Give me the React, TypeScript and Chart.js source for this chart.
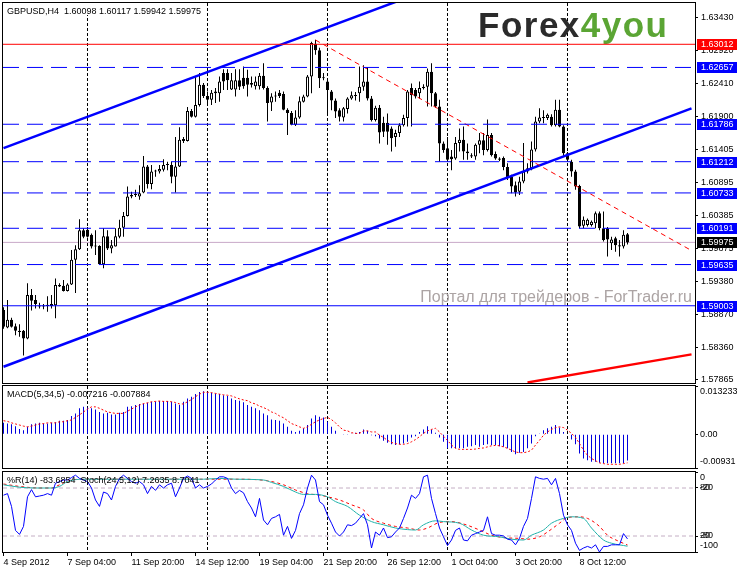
import React, { useEffect, useRef } from "react";
import { Chart, registerables } from "chart.js";
Chart.register(...registerables);

const FONT = "'Liberation Sans', Arial, Helvetica, sans-serif";
const AXIS_W = 42;
const X_MIN = -0.125;
const X_MAX = 172.875;

// ---------- price data (GBPUSD H4) ----------
const opens = [
  1.5894, 1.5867, 1.5879, 1.5869, 1.5862, 1.5862, 1.5850, 1.5917, 1.5909, 1.5900,
  1.5899, 1.5900, 1.5900, 1.5901, 1.5932, 1.5931, 1.5923, 1.5933, 1.5971, 1.5987,
  1.6016, 1.6017, 1.6009, 1.5992, 1.5992, 1.5964, 1.6007, 1.5988, 1.5991, 1.6006,
  1.6020, 1.6038, 1.6068, 1.6070, 1.6068, 1.6074, 1.6114, 1.6087, 1.6106, 1.6106,
  1.6109, 1.6116, 1.6116, 1.6098, 1.6114, 1.6153, 1.6153, 1.6199, 1.6190, 1.6208,
  1.6239, 1.6222, 1.6216, 1.6229, 1.6226, 1.6257, 1.6257, 1.6232, 1.6232, 1.6246,
  1.6250, 1.6250, 1.6242, 1.6237, 1.6237, 1.6253, 1.6234, 1.6212, 1.6221, 1.6227,
  1.6225, 1.6201, 1.6196, 1.6178, 1.6189, 1.6213, 1.6221, 1.6252, 1.6302, 1.6292,
  1.6249, 1.6244, 1.6229, 1.6215, 1.6200, 1.6189, 1.6202, 1.6218, 1.6223, 1.6226,
  1.6236, 1.6244, 1.6218, 1.6185, 1.6204, 1.6181, 1.6181, 1.6172, 1.6159, 1.6165,
  1.6177, 1.6188, 1.6234, 1.6231, 1.6226, 1.6234, 1.6236, 1.6259, 1.6226, 1.6206,
  1.6149, 1.6142, 1.6129, 1.6126, 1.6150, 1.6155, 1.6137, 1.6131, 1.6129, 1.6147,
  1.6154, 1.6139, 1.6162, 1.6133, 1.6126, 1.6127, 1.6113, 1.6098, 1.6085, 1.6075,
  1.6091, 1.6106, 1.6111, 1.6140, 1.6183, 1.6189, 1.6188, 1.6190, 1.6177, 1.6201,
  1.6175, 1.6134, 1.6121, 1.6106, 1.6084, 1.6023, 1.6024, 1.6024, 1.6027, 1.6042,
  1.6019, 1.6019, 1.5996, 1.6004, 1.5993, 1.5991, 1.60098,
];
const highs = [
  1.5898, 1.5909, 1.5882, 1.5873, 1.5872, 1.5863, 1.5935, 1.5926, 1.5917, 1.5905,
  1.5903, 1.5915, 1.5917, 1.5942, 1.5935, 1.5940, 1.5935, 1.5986, 1.5993, 1.6033,
  1.6019, 1.6021, 1.6011, 1.6016, 1.5993, 1.6019, 1.6016, 1.6001, 1.6019, 1.6032,
  1.6044, 1.6083, 1.6075, 1.6078, 1.6085, 1.6130, 1.6116, 1.6116, 1.6109, 1.6116,
  1.6125, 1.6121, 1.6121, 1.6159, 1.6174, 1.6159, 1.6205, 1.6202, 1.6252, 1.6257,
  1.6242, 1.6229, 1.6231, 1.6234, 1.6252, 1.6263, 1.6263, 1.6257, 1.6263, 1.6263,
  1.6267, 1.6262, 1.6252, 1.6252, 1.6257, 1.6272, 1.6237, 1.6226, 1.6229, 1.6231,
  1.6229, 1.6203, 1.6199, 1.6200, 1.6221, 1.6224, 1.6254, 1.6305, 1.6308, 1.6296,
  1.6257, 1.6246, 1.6231, 1.6218, 1.6203, 1.6205, 1.6220, 1.6229, 1.6228, 1.6267,
  1.6269, 1.6266, 1.6222, 1.6207, 1.6208, 1.6190, 1.6195, 1.6175, 1.6170, 1.6180,
  1.6193, 1.6231, 1.6241, 1.6234, 1.6244, 1.6240, 1.6264, 1.6272, 1.6228, 1.6216,
  1.6152, 1.6159, 1.6139, 1.6159, 1.6172, 1.6175, 1.6149, 1.6134, 1.6149, 1.6165,
  1.6165, 1.6186, 1.6165, 1.6137, 1.6128, 1.6129, 1.6119, 1.6101, 1.6091, 1.6098,
  1.6150, 1.6119, 1.6152, 1.6190, 1.6203, 1.6200, 1.6195, 1.6194, 1.6216, 1.6216,
  1.6177, 1.6136, 1.6124, 1.6109, 1.6086, 1.6037, 1.6034, 1.6031, 1.6045, 1.6045,
  1.6045, 1.6021, 1.6006, 1.6006, 1.6001, 1.6016, 1.60117,
];
const lows = [
  1.5865, 1.5866, 1.5867, 1.5855, 1.5853, 1.5824, 1.5849, 1.5893, 1.5896, 1.5896,
  1.5895, 1.5891, 1.5896, 1.5881, 1.5929, 1.5922, 1.5922, 1.5932, 1.5920, 1.5986,
  1.6004, 1.6005, 1.5988, 1.5978, 1.5963, 1.5958, 1.5986, 1.5981, 1.5991, 1.6004,
  1.6006, 1.6037, 1.6065, 1.6067, 1.6063, 1.6073, 1.6080, 1.6079, 1.6098, 1.6103,
  1.6106, 1.6108, 1.6088, 1.6074, 1.6113, 1.6150, 1.6152, 1.6189, 1.6189, 1.6206,
  1.6219, 1.6208, 1.6208, 1.6211, 1.6213, 1.6231, 1.6231, 1.6231, 1.6221, 1.6231,
  1.6233, 1.6221, 1.6235, 1.6232, 1.6232, 1.6232, 1.6183, 1.6199, 1.6213, 1.6219,
  1.6200, 1.6162, 1.6177, 1.6176, 1.6187, 1.6212, 1.6220, 1.6226, 1.6285, 1.6234,
  1.6246, 1.6195, 1.6200, 1.6188, 1.6183, 1.6183, 1.6195, 1.6216, 1.6215, 1.6213,
  1.6230, 1.6215, 1.6183, 1.6183, 1.6149, 1.6159, 1.6147, 1.6137, 1.6144, 1.6159,
  1.6175, 1.6175, 1.6175, 1.6218, 1.6218, 1.6232, 1.6206, 1.6206, 1.6204, 1.6121,
  1.6135, 1.6121, 1.6108, 1.6124, 1.6137, 1.6124, 1.6124, 1.6127, 1.6124, 1.6134,
  1.6131, 1.6137, 1.6129, 1.6124, 1.6122, 1.6108, 1.6093, 1.6073, 1.6068, 1.6070,
  1.6088, 1.6103, 1.6108, 1.6137, 1.6180, 1.6180, 1.6185, 1.6175, 1.6175, 1.6174,
  1.6129, 1.6121, 1.6098, 1.6078, 1.6019, 1.6019, 1.6022, 1.6022, 1.6019, 1.6016,
  1.5999, 1.5976, 1.5986, 1.5983, 1.5976, 1.5988, 1.59942,
];
const closes = [
  1.5868, 1.5879, 1.5868, 1.5862, 1.5860, 1.5850, 1.5917, 1.5908, 1.5903, 1.5899,
  1.5900, 1.5902, 1.5903, 1.5932, 1.5930, 1.5923, 1.5933, 1.5971, 1.5987, 1.6016,
  1.6006, 1.6006, 1.5991, 1.5991, 1.5964, 1.6007, 1.5988, 1.5993, 1.6007, 1.6020,
  1.6038, 1.6068, 1.6070, 1.6070, 1.6073, 1.6114, 1.6087, 1.6106, 1.6107, 1.6110,
  1.6116, 1.6116, 1.6098, 1.6114, 1.6155, 1.6156, 1.6199, 1.6190, 1.6208, 1.6239,
  1.6222, 1.6216, 1.6227, 1.6226, 1.6244, 1.6244, 1.6246, 1.6246, 1.6246, 1.6236,
  1.6237, 1.6239, 1.6239, 1.6244, 1.6253, 1.6234, 1.6211, 1.6221, 1.6222, 1.6222,
  1.6201, 1.6196, 1.6178, 1.6189, 1.6214, 1.6221, 1.6252, 1.6303, 1.6292, 1.6249,
  1.6250, 1.6231, 1.6215, 1.6198, 1.6190, 1.6203, 1.6218, 1.6223, 1.6222, 1.6236,
  1.6244, 1.6218, 1.6185, 1.6204, 1.6166, 1.6167, 1.6167, 1.6157, 1.6165, 1.6177,
  1.6188, 1.6229, 1.6223, 1.6221, 1.6234, 1.6236, 1.6259, 1.6226, 1.6206, 1.6149,
  1.6139, 1.6124, 1.6125, 1.6150, 1.6155, 1.6137, 1.6134, 1.6129, 1.6147, 1.6154,
  1.6139, 1.6162, 1.6131, 1.6126, 1.6124, 1.6113, 1.6096, 1.6083, 1.6074, 1.6091,
  1.6106, 1.6111, 1.6140, 1.6183, 1.6189, 1.6188, 1.6193, 1.6177, 1.6201, 1.6175,
  1.6134, 1.6124, 1.6106, 1.6083, 1.6022, 1.6032, 1.6032, 1.6029, 1.6042, 1.6019,
  1.6001, 1.6002, 1.6002, 1.5993, 1.5991, 1.6009, 1.59975,
];

// ---------- MACD(5,34,5) ----------
const macdHist = [
  0.0031, 0.0029, 0.0027, 0.0022, 0.0014, 0.0011, 0.0020, 0.0027, 0.0029, 0.0031,
  0.0029, 0.0029, 0.0031, 0.0033, 0.0037, 0.0037, 0.0039, 0.0050, 0.0057, 0.0071,
  0.0075, 0.0073, 0.0071, 0.0068, 0.0061, 0.0057, 0.0059, 0.0054, 0.0054, 0.0059,
  0.0061, 0.0075, 0.0077, 0.0080, 0.0083, 0.0084, 0.0086, 0.0089, 0.0090, 0.0091,
  0.0091, 0.0091, 0.0089, 0.0084, 0.0080, 0.0089, 0.0098, 0.0103, 0.0110, 0.0116,
  0.0118, 0.0116, 0.0114, 0.0112, 0.0110, 0.0107, 0.0105, 0.0098, 0.0094, 0.0092,
  0.0088, 0.0080, 0.0075, 0.0071, 0.0066, 0.0057, 0.0052, 0.0040, 0.0039, 0.0037,
  0.0029, 0.0020, 0.0009, 0.0006, 0.0009, 0.0016, 0.0025, 0.0043, 0.0052, 0.0048,
  0.0046, 0.0034, 0.0020, 0.0009, 0.0001, -0.0001, -0.0001, 0.0002, 0.0004, 0.0006,
  0.0013, 0.0009, -0.0003, -0.0006, -0.0012, -0.0018, -0.0024, -0.0028, -0.0030, -0.0028,
  -0.0026, -0.0021, -0.0009, -0.0006, 0.0006, 0.0013, 0.0022, 0.0013, 0.0004, -0.0009,
  -0.0021, -0.0039, -0.0039, -0.0039, -0.0039, -0.0039, -0.0035, -0.0033, -0.0030, -0.0035,
  -0.0030, -0.0028, -0.0030, -0.0030, -0.0033, -0.0035, -0.0039, -0.0049, -0.0055, -0.0051,
  -0.0049, -0.0039, -0.0026, -0.0006, 0.0002, 0.0011, 0.0016, 0.0020, 0.0025, 0.0018,
  0.0006, 0.0000, -0.0015, -0.0028, -0.0053, -0.0067, -0.0072, -0.0076, -0.0076, -0.0079,
  -0.0080, -0.0080, -0.0080, -0.0080, -0.0080, -0.0080, -0.007216,
];
const macdSignal = [
  0.0037, 0.0035, 0.0031, 0.0028, 0.0025, 0.0022, 0.0020, 0.0022, 0.0025, 0.0028,
  0.0029, 0.0031, 0.0031, 0.0031, 0.0034, 0.0034, 0.0037, 0.0039, 0.0046, 0.0053,
  0.0061, 0.0069, 0.0075, 0.0075, 0.0071, 0.0066, 0.0061, 0.0059, 0.0057, 0.0057,
  0.0057, 0.0063, 0.0069, 0.0075, 0.0080, 0.0084, 0.0086, 0.0089, 0.0090, 0.0091,
  0.0090, 0.0090, 0.0089, 0.0087, 0.0083, 0.0083, 0.0089, 0.0095, 0.0103, 0.0110,
  0.0115, 0.0115, 0.0114, 0.0112, 0.0110, 0.0108, 0.0107, 0.0105, 0.0101, 0.0097,
  0.0094, 0.0092, 0.0086, 0.0083, 0.0077, 0.0073, 0.0068, 0.0061, 0.0057, 0.0050,
  0.0045, 0.0037, 0.0029, 0.0025, 0.0020, 0.0016, 0.0020, 0.0027, 0.0034, 0.0039,
  0.0043, 0.0046, 0.0040, 0.0031, 0.0020, 0.0011, 0.0009, 0.0004, 0.0002, 0.0002,
  0.0009, 0.0009, 0.0006, 0.0006, -0.0003, -0.0009, -0.0017, -0.0023, -0.0026, -0.0028,
  -0.0028, -0.0026, -0.0021, -0.0015, -0.0007, 0.0002, 0.0009, 0.0013, 0.0016, 0.0006,
  -0.0006, -0.0017, -0.0030, -0.0039, -0.0042, -0.0042, -0.0042, -0.0042, -0.0041, -0.0039,
  -0.0038, -0.0035, -0.0032, -0.0031, -0.0032, -0.0035, -0.0039, -0.0044, -0.0049, -0.0051,
  -0.0051, -0.0049, -0.0044, -0.0030, -0.0017, -0.0003, 0.0006, 0.0013, 0.0018, 0.0020,
  0.0018, 0.0011, 0.0002, -0.0009, -0.0026, -0.0044, -0.0058, -0.0067, -0.0073, -0.0079,
  -0.0081, -0.0083, -0.0083, -0.0083, -0.0083, -0.0081, -0.007884,
];

// ---------- %R(14) ----------
const wprValues = [
  -29, -27, -43, -73, -78, -68, -31, -22, -31, -30,
  -29, -27, -29, -14, -12, -10, -10, -7, -4, -8,
  -10, -12, -20, -35, -43, -25, -27, -35, -18, -8,
  -4, -8, -12, -14, -12, -16, -27, -18, -23, -16,
  -20, -16, -14, -31, -20, -8, -5, -8, -20, -16,
  -20, -18, -15, -10, -6, -6, -8, -20, -27, -23,
  -26, -37, -45, -56, -33, -60, -66, -58, -56, -53,
  -79, -68, -83, -73, -52, -41, -20, -4, -10, -37,
  -41, -54, -64, -75, -80, -75, -66, -67, -64, -58,
  -52, -66, -95, -75, -79, -70, -82, -81, -75, -70,
  -58, -45, -29, -33, -27, -6, -4, -33, -52, -70,
  -81, -92, -85, -73, -70, -85, -86, -79, -77, -75,
  -73, -56, -77, -79, -79, -80, -84, -85, -91, -83,
  -68, -58, -33, -6, -8, -9, -8, -16, -8, -27,
  -54, -66, -73, -89, -98, -95, -93, -95, -91, -100,
  -93, -93, -91, -91, -91, -77, -83.6854,
];

// ---------- Stochastic(24,5,12), read at bar indices ----------
const stochMainIdx = [0, 4, 8, 12, 14, 16, 20, 30, 40, 50, 54, 58, 65, 67, 70, 73, 75, 78, 81, 83, 86, 89, 92, 95, 98, 101, 103, 105, 108, 110, 114, 117, 120, 124, 127, 130, 132, 135, 137, 140, 142, 145, 147, 150, 152, 156];
const stochMainVals = [84, 81, 80, 80, 82, 88, 91, 91, 91, 91, 92, 91, 90, 87, 82, 75, 72, 72, 69, 63, 57, 46, 38, 34, 30, 28, 27.5, 34, 39, 38, 36, 27.5, 21, 19, 16, 15, 21, 27.5, 36, 42, 44, 42, 30, 15, 11, 7.2635];
const stochSigIdx = [0, 4, 9, 12, 14, 17, 20, 50, 58, 66, 70, 73, 76, 79, 81, 84, 87, 90, 92, 95, 98, 101, 104, 106, 109, 112, 115, 119, 122, 125, 129, 131, 134, 136, 139, 141, 144, 146, 149, 151, 154, 156];
const stochSigVals = [85, 82, 80, 80, 84, 90, 91, 91, 91, 89, 84, 77.5, 73, 71, 69, 65, 59, 52.5, 42, 36, 32, 30, 27.5, 30, 37, 38, 35, 27.5, 21, 18, 17, 16, 19, 25, 36, 43, 44, 42, 32, 21, 13, 8.7041];

// ---------- axes / labels ----------
const priceTicks = [1.6343, 1.6292, 1.6241, 1.619, 1.61405, 1.60895, 1.60385, 1.59875, 1.5938, 1.5887, 1.5836, 1.57865];
const timeLabelIdx = [0, 16, 32, 48, 64, 80, 96, 112, 128, 144];
const timeLabels = ["4 Sep 2012", "7 Sep 04:00", "11 Sep 20:00", "14 Sep 12:00", "19 Sep 04:00", "21 Sep 20:00", "26 Sep 12:00", "1 Oct 04:00", "3 Oct 20:00", "8 Oct 12:00"];
const weekGridIdx = [21, 51, 81, 111, 141];

// ---------- drawn objects ----------
const redLevel = 1.63012;
const dashedLevels = [1.62657, 1.61786, 1.61212, 1.60733, 1.60191, 1.59635];
const solidBlueLevel = 1.59003;
const lastPrice = 1.59975;
const channelUpper: [number, number][] = [[0, 1.6142], [100, 1.63707]];
const channelLower: [number, number][] = [[0, 1.58068], [172, 1.62029]];
const redTrend: [number, number][] = [[78, 1.63077], [172, 1.5985]];
const redLow: [number, number][] = [[131, 1.57828], [172, 1.58258]];
const priceBoxes = [
  { v: 1.63012, c: "#ff0000" },
  { v: 1.62657, c: "#0000ff" },
  { v: 1.61786, c: "#0000ff" },
  { v: 1.61212, c: "#0000ff" },
  { v: 1.60733, c: "#0000ff" },
  { v: 1.60191, c: "#0000ff" },
  { v: 1.59975, c: "#000000" },
  { v: 1.59635, c: "#0000ff" },
  { v: 1.59003, c: "#0000ff" },
];
const mainHeader = "GBPUSD,H4  1.60098 1.60117 1.59942 1.59975";
const macdHeader = "MACD(5,34,5) -0.007216 -0.007884";
const stochHeader = "%R(14) -83.6854  Stoch(24,5,12) 7.2635 8.7041";
const watermark = "Портал для трейдеров - ForTrader.ru";

// ---------- helpers ----------
const seg = (pts: [number, number][], color: string, width: number, dash: number[] = [], order = 0) => ({
  type: "line" as const,
  data: pts.map(([x, y]) => ({ x, y })),
  borderColor: color,
  borderWidth: width,
  borderDash: dash,
  pointRadius: 0,
  fill: false,
  tension: 0,
  order,
});
const hline = (v: number, color: string, width: number, dash: number[] = [], order = 0) =>
  seg([[X_MIN, v], [X_MAX, v]], color, width, dash, order);

const xHidden = { type: "linear" as const, min: X_MIN, max: X_MAX, offset: false, display: false };

const frame = {
  id: "frame",
  afterDraw(chart: any) {
    const { ctx, chartArea: a } = chart;
    ctx.save();
    ctx.strokeStyle = "#000";
    ctx.lineWidth = 1;
    ctx.setLineDash([]);
    ctx.strokeRect(a.left - 0.5, a.top - 0.5, a.right - a.left + 1, a.bottom - a.top + 1);
    ctx.restore();
  },
};
const weekGrid = {
  id: "weekGrid",
  beforeDatasetsDraw(chart: any) {
    const { ctx, chartArea: a, scales } = chart;
    ctx.save();
    ctx.strokeStyle = "#000";
    ctx.lineWidth = 1;
    ctx.setLineDash([3, 2]);
    weekGridIdx.forEach((i) => {
      const px = Math.floor(scales.x.getPixelForValue(i)) + 0.5;
      ctx.beginPath();
      ctx.moveTo(px, a.top);
      ctx.lineTo(px, a.bottom);
      ctx.stroke();
    });
    ctx.restore();
  },
};
const headerText = (text: string, bg: boolean) => ({
  id: "headerText",
  afterDraw(chart: any) {
    const { ctx, chartArea: a } = chart;
    ctx.save();
    ctx.font = `9px ${FONT}`;
    const w = ctx.measureText(text).width;
    if (bg) {
      ctx.fillStyle = "#fff";
      ctx.fillRect(a.left, a.top, w + 6, 12);
    }
    ctx.fillStyle = "#000";
    ctx.textBaseline = "middle";
    ctx.fillText(text, a.left + 4, a.top + 9);
    ctx.restore();
  },
});
const sideLabels = (items: { v: number; t: string; dy: number }[]) => ({
  id: "sideLabels",
  afterDraw(chart: any) {
    const { ctx, chartArea: a, scales } = chart;
    ctx.save();
    ctx.font = `9px ${FONT}`;
    ctx.fillStyle = "#000";
    ctx.textBaseline = "middle";
    items.forEach((it) => ctx.fillText(it.t, a.right + 5, scales.y.getPixelForValue(it.v) + it.dy));
    ctx.restore();
  },
});
const mainDecor = {
  id: "mainDecor",
  beforeDatasetsDraw(chart: any) {
    const { ctx, chartArea: a } = chart;
    ctx.save();
    // watermark
    ctx.font = `16px ${FONT}`;
    ctx.fillStyle = "#aca4a4";
    ctx.textAlign = "right";
    ctx.textBaseline = "alphabetic";
    ctx.fillText(watermark, a.right - 3, 302);
    // logo
    ctx.textAlign = "left";
    ctx.font = `bold 35px ${FONT}`;
    try {
      (ctx as any).letterSpacing = "1.5px";
    } catch (e) {
      /* ignore */
    }
    ctx.fillStyle = "#2b2b2b";
    ctx.fillText("Forex", 478, 37);
    const w = ctx.measureText("Forex").width;
    ctx.fillStyle = "#5ba534";
    ctx.fillText("4you", 478 + w, 37);
    ctx.restore();
  },
  afterDraw(chart: any) {
    const { ctx, chartArea: a, scales } = chart;
    ctx.save();
    ctx.font = `9px ${FONT}`;
    ctx.textBaseline = "middle";
    priceBoxes.forEach((b) => {
      const py = Math.round(scales.y.getPixelForValue(b.v));
      ctx.fillStyle = b.c;
      ctx.fillRect(a.right + 2, py - 5, 40, 11);
      ctx.fillStyle = "#fff";
      ctx.fillText(b.v.toFixed(5), a.right + 6, py + 0.5);
    });
    ctx.restore();
  },
};

const common = {
  responsive: false,
  animation: false as const,
  devicePixelRatio: 1,
  events: [] as any[],
  plugins: { legend: { display: false }, tooltip: { enabled: false } },
};
const yRight = (min: number, max: number, ticks: number[], showLabels: boolean, fmt?: (v: number) => string) => ({
  type: "linear" as const,
  position: "right" as const,
  min,
  max,
  beginAtZero: false,
  afterBuildTicks: (s: any) => {
    s.ticks = ticks.map((v) => ({ value: v }));
  },
  afterFit: (s: any) => {
    s.width = AXIS_W;
    s.paddingTop = 0;
    s.paddingBottom = 0;
  },
  ticks: {
    display: showLabels,
    autoSkip: false,
    padding: 3,
    color: "#000",
    font: { family: FONT, size: 9 },
    callback: (v: any) => (fmt ? fmt(Number(v)) : String(v)),
  },
  grid: { drawOnChartArea: false, color: "#000", tickLength: 3, lineWidth: 1 },
  border: { display: false },
});

export default function App() {
  const mainRef = useRef<HTMLCanvasElement>(null);
  const macdRef = useRef<HTMLCanvasElement>(null);
  const stochRef = useRef<HTMLCanvasElement>(null);

  useEffect(() => {
    const idx = opens.map((_, i) => i);
    const main = new Chart(mainRef.current as HTMLCanvasElement, {
      type: "bar",
      data: {
        datasets: [
          hline(lastPrice, "#c8a8c8", 1, [], 9) as any,
          {
            type: "bar",
            data: idx.map((i) => ({ x: i, y: [lows[i], highs[i]] })),
            backgroundColor: "#000",
            borderWidth: 0,
            barThickness: 1,
            grouped: false,
            inflateAmount: 0,
            order: 6,
          } as any,
          {
            type: "bar",
            data: idx.map((i) => ({ x: i, y: [opens[i], closes[i]] })),
            backgroundColor: idx.map((i) => (closes[i] >= opens[i] ? "#ffffff" : "#000000")),
            borderColor: "#000",
            borderWidth: 1,
            borderSkipped: false,
            barThickness: 3,
            grouped: false,
            minBarLength: 1,
            inflateAmount: 0,
            order: 5,
          } as any,
          hline(redLevel, "#ff0000", 1) as any,
          ...dashedLevels.map((v) => hline(v, "#0000ff", 1, [16, 8]) as any),
          hline(solidBlueLevel, "#0000ff", 1) as any,
          seg(redTrend, "#ff0000", 1, [5, 4]) as any,
          seg(redLow, "#ff0000", 2.5) as any,
          seg(channelUpper, "#0000ff", 2.5) as any,
          seg(channelLower, "#0000ff", 2.5) as any,
        ],
      },
      options: {
        ...common,
        layout: { padding: { left: 3, top: 3, right: 0, bottom: 2 } },
        scales: {
          x: xHidden,
          y: yRight(1.57819, 1.63645, priceTicks, true, (v) => v.toFixed(5)),
        },
      } as any,
      plugins: [weekGrid, mainDecor, headerText(mainHeader, true), frame],
    });

    const macd = new Chart(macdRef.current as HTMLCanvasElement, {
      type: "bar",
      data: {
        datasets: [
          {
            type: "line",
            data: idx.map((i) => ({ x: i, y: macdSignal[i] })),
            borderColor: "#ff0000",
            borderWidth: 1,
            borderDash: [2, 2],
            pointRadius: 0,
            fill: false,
            order: 0,
          } as any,
          {
            type: "bar",
            data: idx.map((i) => ({ x: i, y: macdHist[i] })),
            backgroundColor: "#0000dd",
            borderWidth: 0,
            barThickness: 1,
            grouped: false,
            inflateAmount: 0,
            order: 1,
          } as any,
        ],
      },
      options: {
        ...common,
        layout: { padding: { left: 3, top: 1, right: 0, bottom: 3 } },
        scales: {
          x: xHidden,
          y: yRight(-0.00931, 0.013233, [-0.00931, 0, 0.013233], false),
        },
      } as any,
      plugins: [
        weekGrid,
        headerText(macdHeader, false),
        sideLabels([
          { v: 0.013233, t: "0.013233", dy: 6 },
          { v: 0, t: "0.00", dy: 0 },
          { v: -0.00931, t: "-0.00931", dy: -6 },
        ]),
        frame,
      ],
    });

    const stoch = new Chart(stochRef.current as HTMLCanvasElement, {
      type: "line",
      data: {
        datasets: [
          hline(-20, "#c4aec4", 1, [4, 3], 9) as any,
          hline(-80, "#c4aec4", 1, [4, 3], 9) as any,
          {
            data: stochSigIdx.map((x, k) => ({ x, y: stochSigVals[k] - 100 })),
            borderColor: "#ff0000",
            borderWidth: 1,
            borderDash: [3, 3],
            pointRadius: 0,
            cubicInterpolationMode: "monotone",
            order: 3,
          } as any,
          {
            data: stochMainIdx.map((x, k) => ({ x, y: stochMainVals[k] - 100 })),
            borderColor: "#20b2aa",
            borderWidth: 1,
            pointRadius: 0,
            cubicInterpolationMode: "monotone",
            order: 2,
          } as any,
          {
            data: idx.map((i) => ({ x: i, y: wprValues[i] })),
            borderColor: "#0000ff",
            borderWidth: 1,
            pointRadius: 0,
            tension: 0,
            order: 1,
          } as any,
        ],
      },
      options: {
        ...common,
        layout: { padding: { left: 3, top: 1, right: 0, bottom: 0 } },
        scales: {
          x: {
            type: "linear",
            min: X_MIN,
            max: X_MAX,
            offset: false,
            afterBuildTicks: (s: any) => {
              s.ticks = timeLabelIdx.map((v) => ({ value: v }));
            },
            afterFit: (s: any) => {
              s.height = 17;
              s.paddingLeft = 0;
              s.paddingRight = 0;
            },
            ticks: {
              autoSkip: false,
              maxRotation: 0,
              align: "start",
              padding: 1,
              color: "#000",
              font: { family: FONT, size: 9 },
              callback: (_v: any, i: number) => timeLabels[i],
            },
            grid: { drawOnChartArea: false, color: "#000", tickLength: 4 },
            border: { display: false },
          },
          y: yRight(-100, 0, [-100, -80, -20, 0], false),
        },
      } as any,
      plugins: [
        weekGrid,
        headerText(stochHeader, false),
        sideLabels([
          { v: 0, t: "0", dy: 6 },
          { v: -20, t: "-20", dy: 0 },
          { v: -20, t: "80", dy: 0 },
          { v: -80, t: "-80", dy: 0 },
          { v: -80, t: "20", dy: 0 },
          { v: -100, t: "-100", dy: -6 },
        ]),
        frame,
      ],
    });

    return () => {
      main.destroy();
      macd.destroy();
      stoch.destroy();
    };
  }, []);

  const cv = (top: number): React.CSSProperties => ({ position: "absolute", left: 0, top, display: "block" });
  return (
    <div style={{ position: "absolute", left: 0, top: 0, width: 737, height: 569, background: "#fff", overflow: "hidden" }}>
      <canvas ref={mainRef} width={737} height={385} style={cv(0)} />
      <canvas ref={macdRef} width={737} height={86} style={cv(385)} />
      <canvas ref={stochRef} width={737} height={98} style={cv(471)} />
    </div>
  );
}
